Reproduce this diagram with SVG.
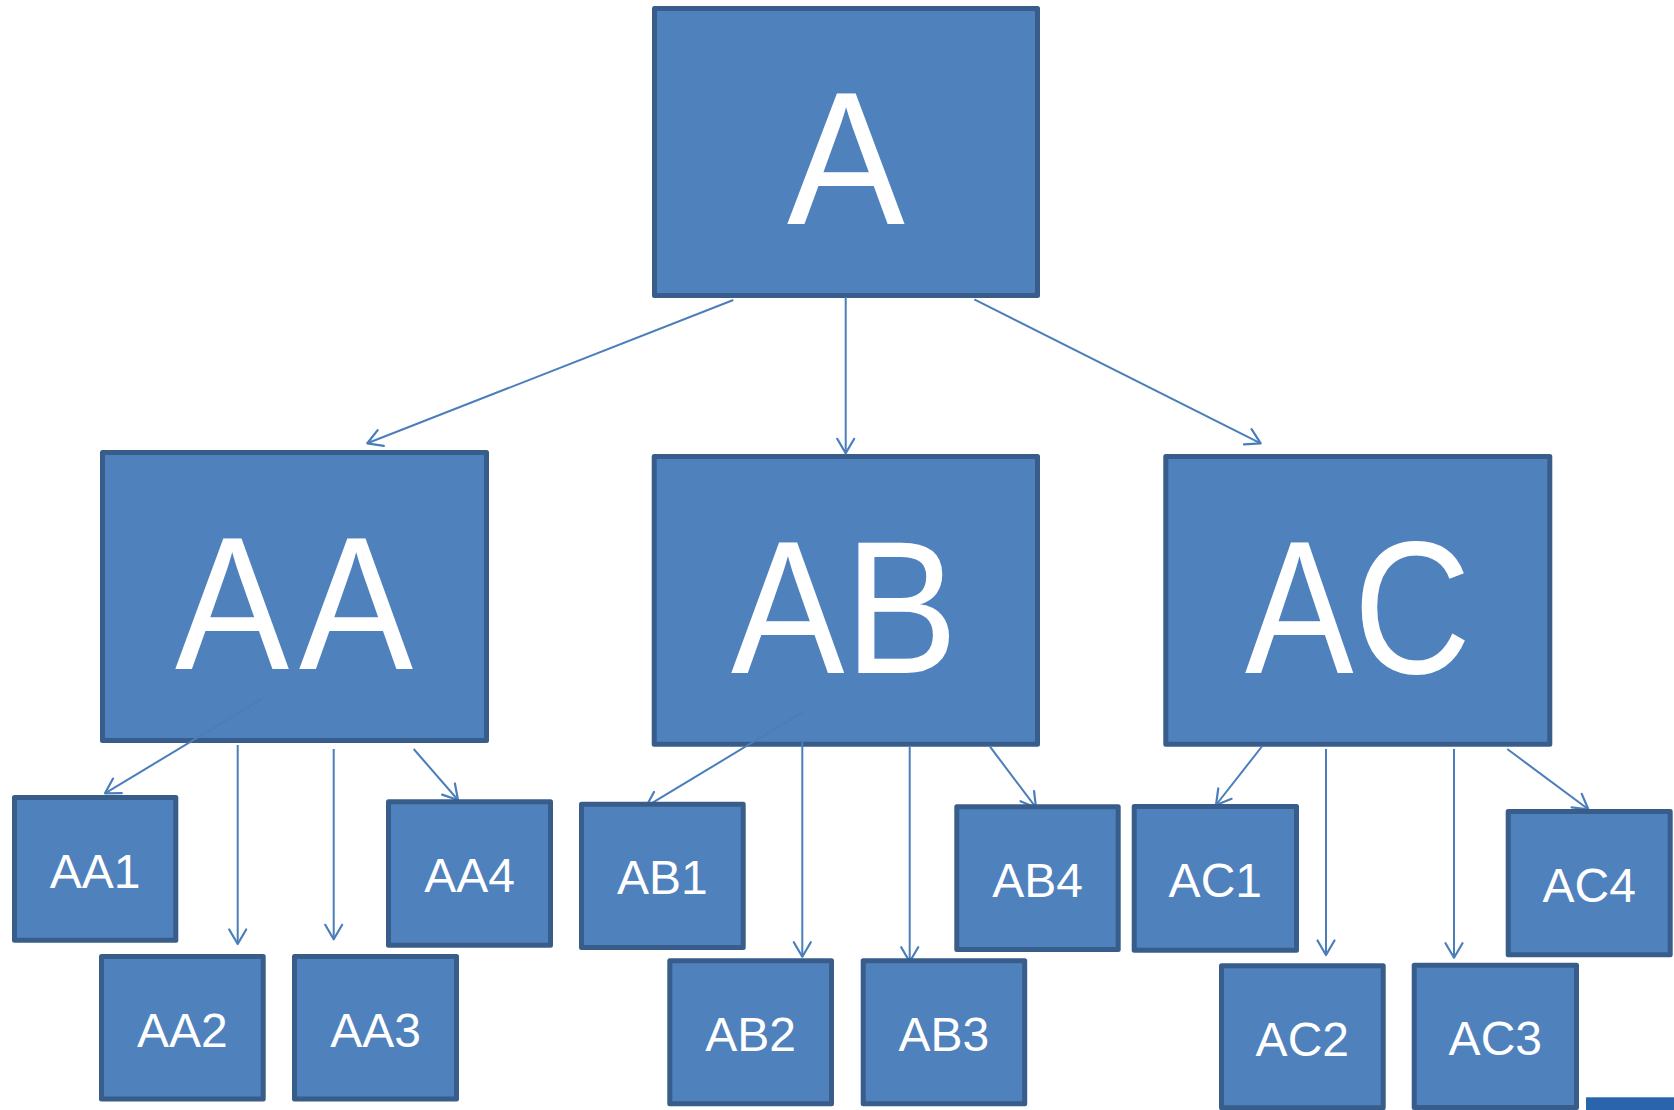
<svg xmlns="http://www.w3.org/2000/svg" width="1674" height="1110" viewBox="0 0 1674 1110">
<defs>
<style>
.box{fill:#4F81BD;stroke:#385D8A;stroke-width:5;stroke-linejoin:round}
.big{font-family:"Liberation Sans",Arial,sans-serif;font-size:190px;fill:#FFFFFF;text-anchor:middle}
.sm{font-family:"Liberation Sans",Arial,sans-serif;font-size:48px;fill:#FFFFFF;text-anchor:middle}
.con{stroke:#4A7EBB;stroke-width:2;fill:none;marker-end:url(#arr)}
</style>
<marker id="arr" markerUnits="userSpaceOnUse" orient="auto" refX="0" refY="0" markerWidth="20" markerHeight="20" overflow="visible">
<path d="M-14.5,-8.5 L0,0 L-14.5,8.5" fill="none" stroke="#4A7EBB" stroke-width="2.2" stroke-linecap="round" stroke-linejoin="round"/>
</marker>
</defs>
<rect width="1674" height="1110" fill="#FFFFFF"/>

<g id="A"><rect class="box" x="654.5" y="8.5" width="383" height="287"/><text class="big" transform="translate(846,224) scale(0.93,1)" x="0" y="0">A</text></g>
<g id="AA"><rect class="box" x="102.5" y="452.5" width="384" height="288"/><text class="big" transform="translate(294,668.7) scale(0.9,1)" x="-68.8 68.8" y="0">AA</text></g>
<g id="AB"><rect class="box" x="654.2" y="456.5" width="383.3" height="287.7"/><text class="big" x="844.5" y="672.6" textLength="227" lengthAdjust="spacingAndGlyphs">AB</text></g>
<g id="AC"><rect class="box" x="1165.8" y="456.5" width="384" height="287.7"/><text class="big" x="1358" y="672.6" textLength="226" lengthAdjust="spacingAndGlyphs">AC</text></g>

<g id="connectors">
<path class="con" d="M733.3,300 L367.3,443.3"/>
<path class="con" d="M845.7,297 L845.7,453.3"/>
<path class="con" d="M974.3,299.3 L1260.7,443.3"/>
<path class="con" d="M261.7,699 L105,793.3"/>
<path class="con" d="M237.7,745 L237.7,944"/>
<path class="con" d="M333.7,749 L333.7,939.3"/>
<path class="con" d="M413.7,749 L458,800"/>
<path class="con" d="M803.3,711.7 L646,806.7"/>
<path class="con" d="M802.3,741.7 L802.3,956.7"/>
<path class="con" d="M909.7,746.7 L909.7,961.7"/>
<path class="con" d="M990,746.7 L1036,807.7"/>
<path class="con" d="M1262.3,746 L1216,805"/>
<path class="con" d="M1326,749 L1326,955"/>
<path class="con" d="M1454,749 L1454,957.7"/>
<path class="con" d="M1507.3,749 L1588.3,809.3"/>
</g>

<g id="AA1"><rect class="box" x="14.5" y="797.5" width="161.3" height="142.7"/><text class="sm" x="95.2" y="887.5">AA1</text></g>
<g id="AA2"><rect class="box" x="101.5" y="956.5" width="161.7" height="142.5"/><text class="sm" x="182.3" y="1046.5">AA2</text></g>
<g id="AA3"><rect class="box" x="294.5" y="956.5" width="162" height="142.5"/><text class="sm" x="375.5" y="1046.5">AA3</text></g>
<g id="AA4"><rect class="box" x="388.5" y="801.8" width="162" height="143.4"/><text class="sm" x="469.5" y="891.8">AA4</text></g>
<g id="AB1"><rect class="box" x="581.5" y="804.2" width="161.7" height="143.3"/><text class="sm" x="662.3" y="894.2">AB1</text></g>
<g id="AB2"><rect class="box" x="669.8" y="960.8" width="161.7" height="143"/><text class="sm" x="750.7" y="1050.8">AB2</text></g>
<g id="AB3"><rect class="box" x="863.2" y="960.8" width="161.5" height="143"/><text class="sm" x="943.9" y="1050.8">AB3</text></g>
<g id="AB4"><rect class="box" x="956.8" y="806.8" width="161.4" height="142.7"/><text class="sm" x="1037.5" y="896.8">AB4</text></g>
<g id="AC1"><rect class="box" x="1134.2" y="806.5" width="162.3" height="143.7"/><text class="sm" x="1215.3" y="896.5">AC1</text></g>
<g id="AC2"><rect class="box" x="1221.5" y="965.8" width="161.7" height="142"/><text class="sm" x="1302.3" y="1055.8">AC2</text></g>
<g id="AC3"><rect class="box" x="1414.2" y="965.2" width="162.3" height="142.3"/><text class="sm" x="1495.3" y="1055.2">AC3</text></g>
<g id="AC4"><rect class="box" x="1508.2" y="811.5" width="162" height="143.3"/><text class="sm" x="1589.2" y="901.5">AC4</text></g>

<rect id="bar" x="1586" y="1097.3" width="88" height="12.7" fill="#2964AD"/>
</svg>
